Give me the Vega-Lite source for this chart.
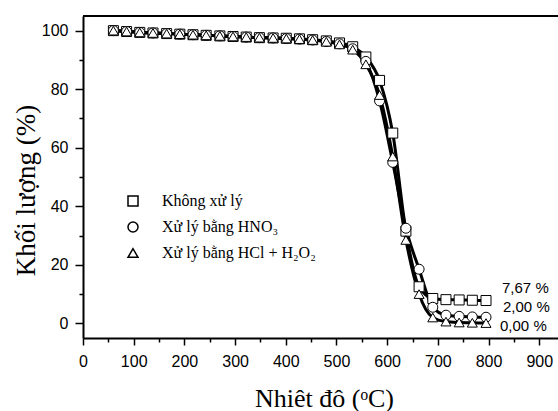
{
  "$schema": "https://vega.github.io/schema/vega-lite/v6.json",
  "autosize": "none",
  "padding": {"left": 83, "top": 16, "right": 0, "bottom": 73},
  "width": 475,
  "height": 322,
  "background": "white",
  "config": {"view": {"stroke": null}, "font": "Liberation Sans"},
  "datasets": {
    "tga": [
      {"t": 60, "s": "Không xử lý", "v": 100.0}, {"t": 86, "s": "Không xử lý", "v": 99.7}, {"t": 112, "s": "Không xử lý", "v": 99.4}, {"t": 138, "s": "Không xử lý", "v": 99.2}, {"t": 165, "s": "Không xử lý", "v": 99.0}, {"t": 191, "s": "Không xử lý", "v": 98.8}, {"t": 217, "s": "Không xử lý", "v": 98.6}, {"t": 243, "s": "Không xử lý", "v": 98.4}, {"t": 270, "s": "Không xử lý", "v": 98.2}, {"t": 296, "s": "Không xử lý", "v": 98.0}, {"t": 322, "s": "Không xử lý", "v": 97.8}, {"t": 348, "s": "Không xử lý", "v": 97.6}, {"t": 375, "s": "Không xử lý", "v": 97.5}, {"t": 401, "s": "Không xử lý", "v": 97.4}, {"t": 427, "s": "Không xử lý", "v": 97.2}, {"t": 453, "s": "Không xử lý", "v": 96.9}, {"t": 480, "s": "Không xử lý", "v": 96.5}, {"t": 506, "s": "Không xử lý", "v": 95.8}, {"t": 532, "s": "Không xử lý", "v": 94.5}, {"t": 558, "s": "Không xử lý", "v": 91.0}, {"t": 585, "s": "Không xử lý", "v": 83.0}, {"t": 611, "s": "Không xử lý", "v": 65.0}, {"t": 637, "s": "Không xử lý", "v": 31.5}, {"t": 663, "s": "Không xử lý", "v": 12.5}, {"t": 690, "s": "Không xử lý", "v": 8.5}, {"t": 716, "s": "Không xử lý", "v": 8.1}, {"t": 742, "s": "Không xử lý", "v": 8.0}, {"t": 768, "s": "Không xử lý", "v": 7.9}, {"t": 795, "s": "Không xử lý", "v": 7.8},
      {"t": 60, "s": "Xử lý bằng HNO₃", "v": 100.0}, {"t": 86, "s": "Xử lý bằng HNO₃", "v": 99.7}, {"t": 112, "s": "Xử lý bằng HNO₃", "v": 99.4}, {"t": 138, "s": "Xử lý bằng HNO₃", "v": 99.2}, {"t": 165, "s": "Xử lý bằng HNO₃", "v": 99.0}, {"t": 191, "s": "Xử lý bằng HNO₃", "v": 98.8}, {"t": 217, "s": "Xử lý bằng HNO₃", "v": 98.6}, {"t": 243, "s": "Xử lý bằng HNO₃", "v": 98.4}, {"t": 270, "s": "Xử lý bằng HNO₃", "v": 98.2}, {"t": 296, "s": "Xử lý bằng HNO₃", "v": 98.0}, {"t": 322, "s": "Xử lý bằng HNO₃", "v": 97.8}, {"t": 348, "s": "Xử lý bằng HNO₃", "v": 97.6}, {"t": 375, "s": "Xử lý bằng HNO₃", "v": 97.5}, {"t": 401, "s": "Xử lý bằng HNO₃", "v": 97.3}, {"t": 427, "s": "Xử lý bằng HNO₃", "v": 97.1}, {"t": 453, "s": "Xử lý bằng HNO₃", "v": 96.8}, {"t": 480, "s": "Xử lý bằng HNO₃", "v": 96.3}, {"t": 506, "s": "Xử lý bằng HNO₃", "v": 95.5}, {"t": 532, "s": "Xử lý bằng HNO₃", "v": 93.8}, {"t": 558, "s": "Xử lý bằng HNO₃", "v": 89.5}, {"t": 585, "s": "Xử lý bằng HNO₃", "v": 76.0}, {"t": 611, "s": "Xử lý bằng HNO₃", "v": 55.0}, {"t": 637, "s": "Xử lý bằng HNO₃", "v": 32.5}, {"t": 663, "s": "Xử lý bằng HNO₃", "v": 18.5}, {"t": 690, "s": "Xử lý bằng HNO₃", "v": 5.5}, {"t": 716, "s": "Xử lý bằng HNO₃", "v": 2.8}, {"t": 742, "s": "Xử lý bằng HNO₃", "v": 2.4}, {"t": 768, "s": "Xử lý bằng HNO₃", "v": 2.2}, {"t": 795, "s": "Xử lý bằng HNO₃", "v": 2.1},
      {"t": 60, "s": "Xử lý bằng HCl + H₂O₂", "v": 100.0}, {"t": 86, "s": "Xử lý bằng HCl + H₂O₂", "v": 99.7}, {"t": 112, "s": "Xử lý bằng HCl + H₂O₂", "v": 99.4}, {"t": 138, "s": "Xử lý bằng HCl + H₂O₂", "v": 99.2}, {"t": 165, "s": "Xử lý bằng HCl + H₂O₂", "v": 99.0}, {"t": 191, "s": "Xử lý bằng HCl + H₂O₂", "v": 98.8}, {"t": 217, "s": "Xử lý bằng HCl + H₂O₂", "v": 98.6}, {"t": 243, "s": "Xử lý bằng HCl + H₂O₂", "v": 98.4}, {"t": 270, "s": "Xử lý bằng HCl + H₂O₂", "v": 98.2}, {"t": 296, "s": "Xử lý bằng HCl + H₂O₂", "v": 98.0}, {"t": 322, "s": "Xử lý bằng HCl + H₂O₂", "v": 97.8}, {"t": 348, "s": "Xử lý bằng HCl + H₂O₂", "v": 97.6}, {"t": 375, "s": "Xử lý bằng HCl + H₂O₂", "v": 97.5}, {"t": 401, "s": "Xử lý bằng HCl + H₂O₂", "v": 97.3}, {"t": 427, "s": "Xử lý bằng HCl + H₂O₂", "v": 97.1}, {"t": 453, "s": "Xử lý bằng HCl + H₂O₂", "v": 96.8}, {"t": 480, "s": "Xử lý bằng HCl + H₂O₂", "v": 96.2}, {"t": 506, "s": "Xử lý bằng HCl + H₂O₂", "v": 95.3}, {"t": 532, "s": "Xử lý bằng HCl + H₂O₂", "v": 93.5}, {"t": 558, "s": "Xử lý bằng HCl + H₂O₂", "v": 88.5}, {"t": 585, "s": "Xử lý bằng HCl + H₂O₂", "v": 78.0}, {"t": 611, "s": "Xử lý bằng HCl + H₂O₂", "v": 57.0}, {"t": 637, "s": "Xử lý bằng HCl + H₂O₂", "v": 28.5}, {"t": 663, "s": "Xử lý bằng HCl + H₂O₂", "v": 10.0}, {"t": 690, "s": "Xử lý bằng HCl + H₂O₂", "v": 2.0}, {"t": 716, "s": "Xử lý bằng HCl + H₂O₂", "v": 0.6}, {"t": 742, "s": "Xử lý bằng HCl + H₂O₂", "v": 0.3}, {"t": 768, "s": "Xử lý bằng HCl + H₂O₂", "v": 0.2}, {"t": 795, "s": "Xử lý bằng HCl + H₂O₂", "v": 0.1}
    ]
  },
  "data": {"name": "tga"},
  "encoding": {
    "x": {
      "field": "t", "type": "quantitative",
      "scale": {"domain": [0, 937], "nice": false, "zero": false},
      "axis": {
        "values": [0, 50, 100, 150, 200, 250, 300, 350, 400, 450, 500, 550, 600, 650, 700, 750, 800, 850, 900],
        "labelExpr": "datum.value % 100 === 0 ? datum.label : ''",
        "tickSize": {"condition": {"test": "datum.value % 100 === 0", "value": 7}, "value": 4},
        "tickColor": "black", "tickWidth": 1.5,
        "domainColor": "black", "domainWidth": 2,
        "labelFont": "Liberation Sans", "labelFontSize": 16, "labelColor": "black",
        "labelPadding": 8, "labelFlush": false, "labelOverlap": false,
        "grid": false,
        "title": "Nhiêt đô (ᵒC)",
        "titleFont": "Liberation Serif", "titleFontSize": 26, "titleFontWeight": "normal", "titleColor": "black",
        "titleX": 241, "titleY": 68, "titleBaseline": "alphabetic", "titleAlign": "center"
      }
    },
    "y": {
      "field": "v", "type": "quantitative",
      "scale": {"domain": [-5, 105], "nice": false, "zero": false},
      "axis": {
        "values": [0, 10, 20, 30, 40, 50, 60, 70, 80, 90, 100],
        "labelExpr": "datum.value % 20 === 0 ? datum.label : ''",
        "tickSize": {"condition": {"test": "datum.value % 20 === 0", "value": 8}, "value": 4},
        "tickColor": "black", "tickWidth": 1.5,
        "domainColor": "black", "domainWidth": 2,
        "labelFont": "Liberation Sans", "labelFontSize": 16, "labelColor": "black",
        "labelPadding": 7, "labelOverlap": false,
        "grid": false,
        "title": "Khối lượng (%)",
        "titleFont": "Liberation Serif", "titleFontSize": 27, "titleFontWeight": "normal", "titleColor": "black",
        "titlePadding": 1, "titleY": 174
      }
    }
  },
  "layer": [
    {
      "mark": {"type": "rule", "color": "black", "strokeWidth": 2},
      "encoding": {"x": {"datum": 0}, "x2": {"datum": 937}, "y": {"datum": 105}}
    },
    {
      "mark": {"type": "line", "color": "black", "strokeWidth": 3, "interpolate": "monotone"},
      "encoding": {"detail": {"field": "s", "type": "nominal"}}
    },
    {
      "mark": {"type": "point", "filled": true, "fill": "white", "stroke": "black", "strokeWidth": 1, "size": 100, "opacity": 1},
      "encoding": {
        "shape": {
          "field": "s", "type": "nominal",
          "scale": {"domain": ["Không xử lý", "Xử lý bằng HNO₃", "Xử lý bằng HCl + H₂O₂"], "range": ["square", "circle", "triangle-up"]},
          "legend": {
            "orient": "none", "legendX": 42, "legendY": 177, "title": null, "padding": 0,
            "symbolSize": 100,
            "labelFont": "Liberation Serif", "labelFontSize": 16, "labelColor": "black", "labelOffset": 21, "labelLimit": 300,
            "rowPadding": 10
          }
        }
      }
    },
    {
      "transform": [{"filter": "datum.t === 795 && datum.s === 'Không xử lý'"}],
      "mark": {"type": "text", "align": "left", "baseline": "middle", "dx": 16, "dy": -12.5, "font": "Liberation Sans", "fontSize": 15, "color": "black"},
      "encoding": {"text": {"value": "7,67 %"}}
    },
    {
      "transform": [{"filter": "datum.t === 795 && datum.s === 'Xử lý bằng HNO₃'"}],
      "mark": {"type": "text", "align": "left", "baseline": "middle", "dx": 17, "dy": -10.5, "font": "Liberation Sans", "fontSize": 15, "color": "black"},
      "encoding": {"text": {"value": "2,00 %"}}
    },
    {
      "transform": [{"filter": "datum.t === 795 && datum.s === 'Xử lý bằng HCl + H₂O₂'"}],
      "mark": {"type": "text", "align": "left", "baseline": "middle", "dx": 14, "dy": 3, "font": "Liberation Sans", "fontSize": 15, "color": "black"},
      "encoding": {"text": {"value": "0,00 %"}}
    }
  ]
}
